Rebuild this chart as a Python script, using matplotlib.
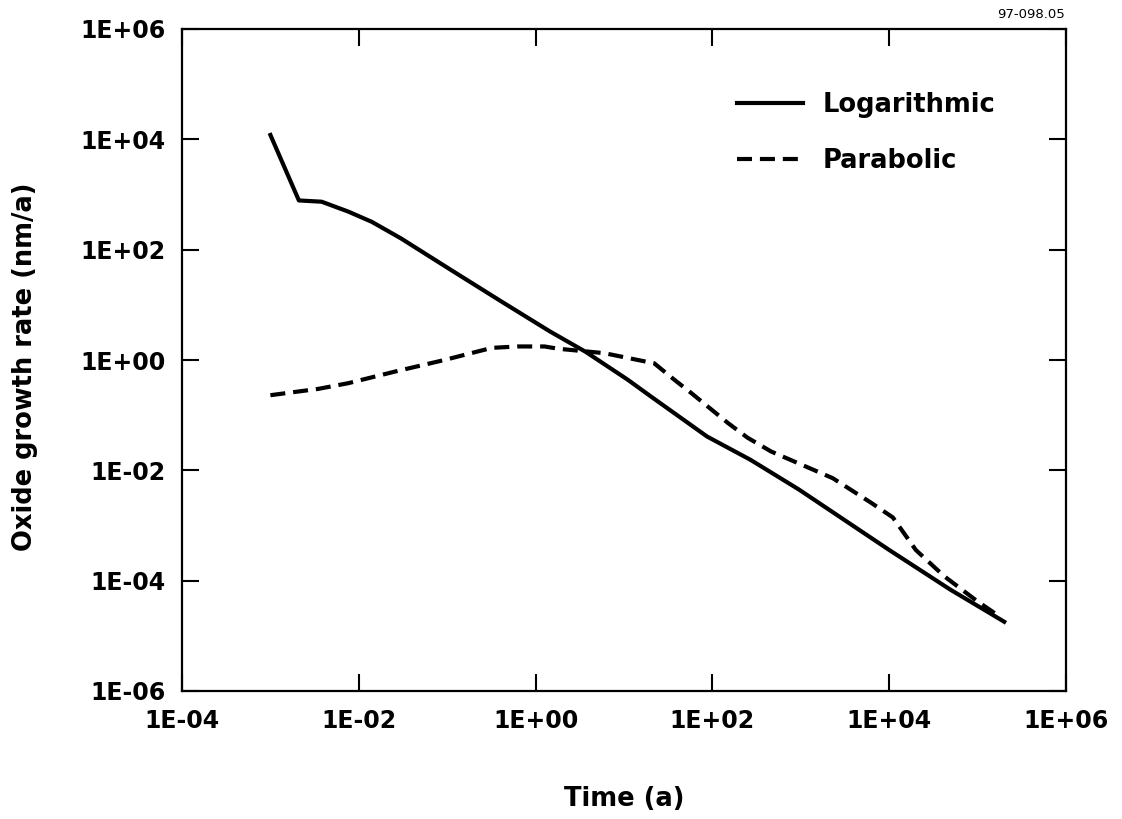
import matplotlib
matplotlib.use("Agg")
import matplotlib.pyplot as plt

# oxide growth rate vs. time
t_log = [1.0e-3, 2.1e-3, 3.8e-3, 7.6e-3, 1.4e-2, 3.0e-2, 0.11, 0.41, 1.45, 3.7,
         11, 20, 87, 270, 950, 1.0e4, 4.9e4, 2.0e5]
rate_log = [1.2e4, 780, 740, 490, 320, 160, 43, 11.5, 3.3, 1.4,
            0.44, 0.22, 0.041, 0.0155, 4.5e-3, 3.6e-4, 6.9e-5, 1.8e-5]

t_par = [1.0e-3, 3.5e-3, 7.6e-3, 2.6e-2, 9.3e-2, 0.32, 0.63, 1.26, 1.8, 6.0,
         22, 37, 58, 150, 250, 460, 2300, 6200, 1.1e4, 2.0e4, 4.2e4, 9.8e4, 1.8e5]
rate_par = [0.23, 0.30, 0.38, 0.62, 1.0, 1.66, 1.76, 1.76, 1.6, 1.33,
            0.87, 0.44, 0.25, 0.072, 0.039, 0.022, 7.2e-3, 2.6e-3, 1.4e-3, 3.6e-4, 1.2e-4, 4.3e-5, 2.2e-5]

xticks = [1e-4, 1e-2, 1e0, 1e2, 1e4, 1e6]
yticks = [1e-6, 1e-4, 1e-2, 1e0, 1e2, 1e4, 1e6]
xlabels = ["1E-04", "1E-02", "1E+00", "1E+02", "1E+04", "1E+06"]
ylabels = ["1E-06", "1E-04", "1E-02", "1E+00", "1E+02", "1E+04", "1E+06"]

bold = dict(family="DejaVu Sans", weight="bold")

fig = plt.figure(figsize=(11.22, 8.19), dpi=100)
ax = fig.add_axes([182 / 1122, 1 - 691 / 819, 884 / 1122, 662 / 819])

ax.plot(t_log, rate_log, '-', color="black", lw=3, label="Logarithmic")
ax.plot(t_par, rate_par, '--', color="black", lw=3, dashes=(3.6, 1.9), label="Parabolic")

ax.set_xscale("log")
ax.set_yscale("log")
ax.set_xlim(1e-4, 1e6)
ax.set_ylim(1e-6, 1e6)
ax.set_xticks(xticks)
ax.set_yticks(yticks)
ax.minorticks_off()
ax.set_xticklabels(xlabels, fontsize=17, **bold)
ax.set_yticklabels(ylabels, fontsize=17, **bold)
ax.tick_params(axis="both", direction="in", length=12, width=1.5, top=True, right=True)
ax.tick_params(axis="x", pad=13)
ax.tick_params(axis="y", pad=12)
for s in ax.spines.values():
    s.set_linewidth(1.6)

ax.set_xlabel("Time (a)", fontsize=18.5, **bold)
ax.set_ylabel("Oxide growth rate (nm/a)", fontsize=18.5, **bold)
ax.xaxis.set_label_coords(0.5, -0.143)
ax.yaxis.set_label_coords(-0.163, 0.49)

ax.legend(loc="upper left", bbox_to_anchor=(0.628, 0.905), frameon=False,
          prop=dict(size=18.5, **bold), handlelength=2.57, handletextpad=0.74,
          borderpad=0, borderaxespad=0, labelspacing=1.18)

fig.text(1065 / 1122, 1 - 15 / 819, "97-098.05", ha="right", va="center",
         fontsize=9.5, family="DejaVu Sans")

fig.savefig("out.png", dpi=100)
